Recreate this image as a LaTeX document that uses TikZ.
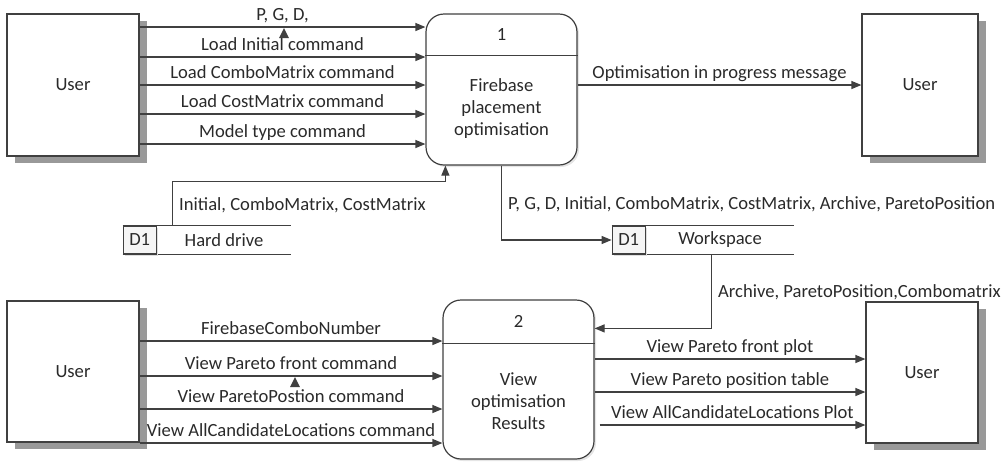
\documentclass[tikz,border=0pt]{standalone}
\usepackage{fontspec}
\setmainfont{Carlito}
\usepackage{tikz}
\usetikzlibrary{
  positioning,
  calc,
  arrows.meta,
  shadows
}
\definecolor{linegray}{HTML}{404040}
\definecolor{textgray}{HTML}{2A2A2A}
\newcommand{\dfdfont}{\fontsize{9.3}{11}\selectfont}

\tikzset{
  user/.style={draw=linegray, fill=white, line width=0.6pt, minimum width=66pt,
    minimum height=71pt, drop shadow={shadow xshift=4pt, shadow yshift=-3.5pt,
    fill=gray!80, opacity=1}},
  process/.style={draw=linegray, fill=white, line width=0.6pt, rounded corners=9pt,
    minimum width=75.5pt, drop shadow={shadow xshift=1pt, shadow yshift=-1pt,
    fill=gray!20, opacity=1}},
  storeid/.style={draw=linegray, fill=gray!8, line width=0.6pt, minimum width=16.5pt,
    minimum height=14pt, inner sep=0pt, drop shadow={shadow xshift=1pt,
    shadow yshift=-1pt, fill=gray!25, opacity=1}},
  store/.style={minimum width=84pt, minimum height=14pt, inner sep=0pt},
  flow/.style={draw=linegray, line width=0.6pt, -{Triangle[length=5pt, width=4pt]}},
  lbl/.style={text=textgray, inner sep=3pt, text depth=0pt}
}

\begin{document}
\begin{tikzpicture}[x=0.5pt, y=-0.5pt, font=\dfdfont, text=textgray]
  \useasboundingbox (0,0) rectangle (1008,462);

  % External entities
  \node[user] (uTL) at (73,85) {User};
  \node[user, minimum height=70.5pt] (uBL) at (73,371.5) {User};
  \node[user, minimum width=58pt] (uTR) at (920,85) {User};
  \node[user, minimum width=56pt, minimum height=70.5pt] (uBR) at (922,372.5) {User};

  % Process 1
  \node[process, minimum height=75.5pt] (p1) at (501.5,89.5) {};
  \draw[linegray, line width=0.6pt] ([yshift=-21pt]p1.north west) -- ([yshift=-21pt]p1.north east);
  \node (p1num) at ([yshift=-10.5pt]p1.north) {1};
  \node[align=center] (p1txt) at ([yshift=-47.5pt]p1.north) {Firebase\\placement\\optimisation};

  % Process 2
  \node[process, minimum height=79.5pt] (p2) at (518.5,379.5) {};
  \draw[linegray, line width=0.6pt] ([yshift=-22pt]p2.north west) -- ([yshift=-22pt]p2.north east);
  \node (p2num) at ([yshift=-11pt]p2.north) {2};
  \node[align=center] (p2txt) at ([yshift=-51pt]p2.north) {View\\optimisation\\Results};

  % Data stores
  \node[store] (hd) at (207,240) {};
  \draw[linegray, line width=0.6pt] (hd.north west) -- (hd.north east) (hd.south west) -- (hd.south east);
  \node[storeid, anchor=west] (hdid) at (hd.west) {D1};
  \node (hdtxt) at ($(hdid.east)!0.5!(hd.east)$) {Hard drive};

  \node[store, minimum width=91pt] (ws) at (703,240) {};
  \draw[linegray, line width=0.6pt] (ws.north west) -- (ws.north east) (ws.south west) -- (ws.south east);
  \node[storeid, anchor=west] (wsid) at (ws.west) {D1};
  \node (wstxt) at ($(wsid.east)!0.5!(ws.east)$) {Workspace};

  % User to process 1
  \draw[flow] (uTL.east |- 0,27) -- (p1.west |- 0,27) node[midway, above, lbl] {P, G, D,};
  \draw[flow] (uTL.east |- 0,57) -- (p1.west |- 0,57) node[midway, above, lbl] {Load Initial command};
  \draw[flow] (uTL.east |- 0,85) -- (p1.west |- 0,85) node[midway, above, lbl] {Load ComboMatrix command};
  \draw[flow] (uTL.east |- 0,114) -- (p1.west |- 0,114) node[midway, above, lbl] {Load CostMatrix command};
  \draw[flow] (uTL.east |- 0,144) -- (p1.west |- 0,144) node[midway, above, lbl] {Model type command};
  \fill[linegray] (284,28) -- (279,38) -- (289,38) -- cycle;

  % Process 1 to user
  \draw[flow] (p1.east |- uTR.west) -- (uTR.west) node[midway, above, lbl] {Optimisation in progress message};

  % Stores and process 1
  \draw[flow] ([xshift=25pt]hd.north west) |- ([xshift=10pt, yshift=-8pt]p1.south west)
    node[pos=0.25, right, lbl] {Initial, ComboMatrix, CostMatrix} -- ([xshift=10pt]p1.south west);
  \draw[flow] (p1.south) |- (wsid.west)
    node[pos=0.25, right, lbl] {P, G, D, Initial, ComboMatrix, CostMatrix, Archive, ParetoPosition};
  \draw[flow] ([xshift=50pt]ws.south west) |- ([yshift=-14.5pt]p2.north east)
    node[pos=0.25, right, lbl] {Archive, ParetoPosition,Combomatrix};

  % User to process 2
  \draw[flow] (uBL.east |- 0,341) -- (p2.west |- 0,341) node[midway, above, lbl] {FirebaseComboNumber};
  \draw[flow] (uBL.east |- 0,376) -- (p2.west |- 0,376) node[midway, above, lbl] {View Pareto front command};
  \draw[flow] (uBL.east |- 0,409) -- (p2.west |- 0,409) node[midway, above, lbl] {View ParetoPostion command};
  \draw[flow] (uBL.east |- 0,443) -- (p2.west |- 0,443) node[midway, above, lbl] {View AllCandidateLocations command};
  \fill[linegray] (295,377) -- (290,387) -- (300,387) -- cycle;

  % Process 2 to user
  \draw[flow] (p2.east |- 0,359) -- (uBR.west |- 0,359) node[midway, above, lbl] {View Pareto front plot};
  \draw[flow] (p2.east |- 0,392) -- (uBR.west |- 0,392) node[midway, above, lbl] {View Pareto position table};
  \draw[flow] ([xshift=2.5pt]p2.east |- 0,425) -- (uBR.west |- 0,425) node[midway, above, lbl] {View AllCandidateLocations Plot};
\end{tikzpicture}
\end{document}
